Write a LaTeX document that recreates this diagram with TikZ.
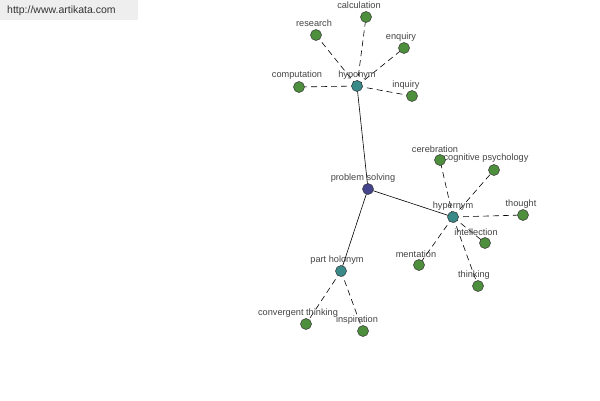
\documentclass[tikz,border=0pt]{standalone}
\usepackage{fontspec}
\setmainfont{Liberation Sans}
\usetikzlibrary{backgrounds}
\begin{document}
\begin{tikzpicture}[x=1pt,y=-1pt,
  dot/.style={circle,draw=black!80,line width=0.5pt,minimum size=11pt,inner sep=0pt},
  root/.style={dot,fill=rootc},
  hub/.style={dot,fill=hubc},
  leaf/.style={dot,fill=leafc},
  lbl/.style={font=\fontsize{9.2}{10}\selectfont,text=labc,inner sep=0pt},
  solidedge/.style={draw=black,line width=0.6pt},
  dashedge/.style={draw=black,line width=0.6pt,dash pattern=on 6pt off 4pt}]
\definecolor{rootc}{HTML}{44448E}
\definecolor{hubc}{HTML}{3A8A8A}
\definecolor{leafc}{HTML}{4E8F3E}
\definecolor{labc}{HTML}{444444}
\definecolor{hdrc}{HTML}{EEEEEE}
\useasboundingbox (0,0) rectangle (600,400);

% labels
\node[lbl] (lps) at (363,178) {problem solving};
\node[lbl] (lhypo) at (357,75) {hyponym};
\node[lbl] (lhyper) at (453,206) {hypernym};
\node[lbl] (lph) at (337,260) {part holonym};
\node[lbl] (lcalc) at (359,5) {calculation};
\node[lbl] (lres) at (314,23) {research};
\node[lbl] (lenq) at (401,37) {enquiry};
\node[lbl] (lcomp) at (297,75) {computation};
\node[lbl] (linq) at (406,85) {inquiry};
\node[lbl] (lcer) at (435,149) {cerebration};
\node[lbl] (lcog) at (486,158) {cognitive psychology};
\node[lbl] (ltho) at (521,204) {thought};
\node[lbl] (lintel) at (476,232) {intellection};
\node[lbl] (lment) at (416,254) {mentation};
\node[lbl] (lthin) at (474,275) {thinking};
\node[lbl] (lconv) at (298,313) {convergent thinking};
\node[lbl] (linsp) at (357,320) {inspiration};

% nodes
\node[root] (ps) at (368,189) {};
\node[hub] (hypo) at (357,86) {};
\node[hub] (hyper) at (453,217) {};
\node[hub] (ph) at (341,271) {};
\node[leaf] (calc) at (366,17) {};
\node[leaf] (res) at (316,35) {};
\node[leaf] (enq) at (404,48) {};
\node[leaf] (comp) at (299,87) {};
\node[leaf] (inq) at (412,96) {};
\node[leaf] (cer) at (440,160) {};
\node[leaf] (cog) at (494,170) {};
\node[leaf] (tho) at (523,215) {};
\node[leaf] (intel) at (485,243) {};
\node[leaf] (ment) at (419,265) {};
\node[leaf] (thin) at (478,286) {};
\node[leaf] (conv) at (306,324) {};
\node[leaf] (insp) at (363,331) {};

\node[anchor=west,font=\fontsize{10.5}{12}\selectfont,text=black!80,inner sep=0pt] (hdr) at (7,11) {http://www.artikata.com};

\begin{scope}[on background layer]
\fill[white] (0,0) rectangle (600,400);
\fill[hdrc] (0,0) rectangle (138,20);
\draw[solidedge] (ps.center) -- (hypo.center);
\draw[solidedge] (ps.center) -- (hyper.center);
\draw[solidedge] (ps.center) -- (ph.center);
\foreach \t in {calc,res,enq,comp,inq}
  \draw[dashedge] (hypo.center) -- (\t.center);
\foreach \t in {cer,cog,tho,intel,ment,thin}
  \draw[dashedge] (hyper.center) -- (\t.center);
\foreach \t in {conv,insp}
  \draw[dashedge] (ph.center) -- (\t.center);
\end{scope}
\end{tikzpicture}
\end{document}
